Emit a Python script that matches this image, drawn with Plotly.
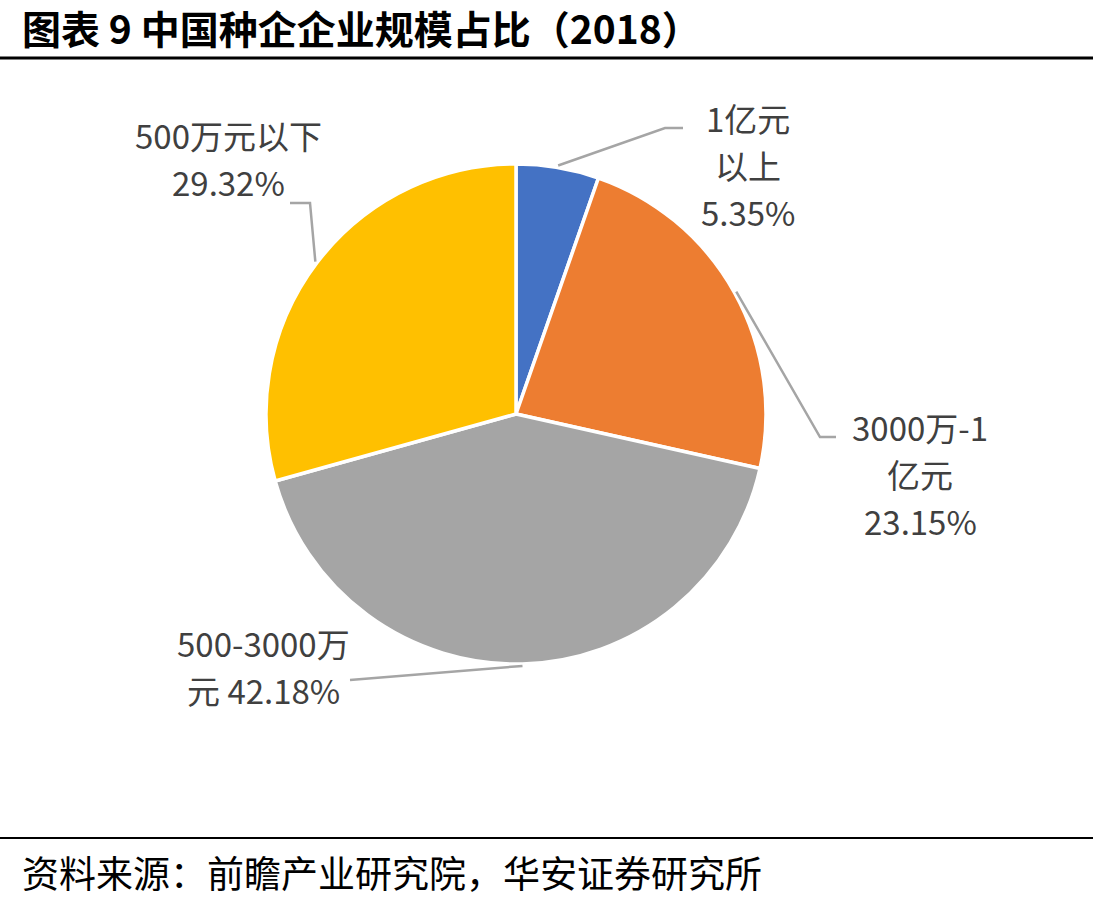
import math
import plotly.graph_objects as go

W, H = 1093, 906

# ---- data ----
categories = ["1亿元以上", "3000万-1亿元", "500-3000万元", "500万元以下"]
values = [5.35, 23.15, 42.18, 29.32]
colors = ["#4472C4", "#ED7D31", "#A5A5A5", "#FFC000"]
label_lines = [["1亿元", "以上"], ["3000万-1", "亿元"], ["500-3000万", "元 "], ["500万元以下"]]

title = "图表 9 中国种企企业规模占比（2018）"
source = "资料来源：前瞻产业研究院，华安证券研究所"

# ---- layout constants (pixels) ----
CX, CY, R = 516, 414, 250
FONT = "Noto Sans CJK SC"
TXT = "#404040"
LINE_H = 47

def xp(x):
    return x / W

def yp(y):
    return 1 - y / H

fig = go.Figure()
fig.add_trace(go.Pie(
    labels=categories, values=values, sort=False, direction="clockwise", rotation=0,
    marker=dict(colors=colors, line=dict(color="white", width=3.5)),
    textinfo="none", hoverinfo="skip", showlegend=False,
    domain=dict(x=[xp(CX - R), xp(CX + R)], y=[yp(CY + R), yp(CY - R)]),
))

styles = [
    dict(elbow=(665, 128), end=(683, 128), tx=748, ty=118),
    dict(elbow=(820, 437), end=(836, 437), tx=920, ty=427),
    dict(elbow=(350, 680), end=(350, 680), tx=263, ty=643),
    dict(elbow=(310, 203), end=(290, 203), tx=228, ty=135),
]

shapes = []
annotations = []
total = sum(values)
cum = 0.0
for i, v in enumerate(values):
    mid = (cum + v / 2) / total * 2 * math.pi
    cum += v
    ax = CX + (R + 2) * math.sin(mid)
    ay = CY - (R + 2) * math.cos(mid)
    st = styles[i]
    ex, ey = st["elbow"]
    fx, fy = st["end"]
    shapes.append(dict(type="path", xref="paper", yref="paper",
                       path=f"M {xp(ax)} {yp(ay)} L {xp(ex)} {yp(ey)} L {xp(fx)} {yp(fy)}",
                       line=dict(color="#A5A5A5", width=2.5)))
    pct = f"{v:.2f}%"
    lines = list(label_lines[i])
    if lines[-1].endswith(" "):
        lines[-1] = lines[-1] + pct
    else:
        lines.append(pct)
    for j, t in enumerate(lines):
        annotations.append(dict(text=t, x=xp(st["tx"]), y=yp(st["ty"] + j * LINE_H),
                                xref="paper", yref="paper", xanchor="center", yanchor="middle",
                                showarrow=False, font=dict(family=FONT, size=33, color=TXT)))

annotations.append(dict(text="<b>" + title + "</b>", x=xp(20), y=yp(27), xref="paper", yref="paper",
                        xanchor="left", yanchor="middle", showarrow=False,
                        font=dict(family=FONT, size=39, color="#000000")))
annotations.append(dict(text=source, x=xp(20), y=yp(872), xref="paper", yref="paper",
                        xanchor="left", yanchor="middle", showarrow=False,
                        font=dict(family=FONT, size=37, color="#000000")))

shapes.append(dict(type="line", xref="paper", yref="paper", x0=0, x1=1, y0=yp(58), y1=yp(58),
                   line=dict(color="#000000", width=3)))
shapes.append(dict(type="line", xref="paper", yref="paper", x0=0, x1=1, y0=yp(838), y1=yp(838),
                   line=dict(color="#000000", width=2)))

fig.update_layout(width=W, height=H, margin=dict(l=0, r=0, t=0, b=0),
                  paper_bgcolor="white", plot_bgcolor="white",
                  shapes=shapes, annotations=annotations)

fig.write_html("out.html")
